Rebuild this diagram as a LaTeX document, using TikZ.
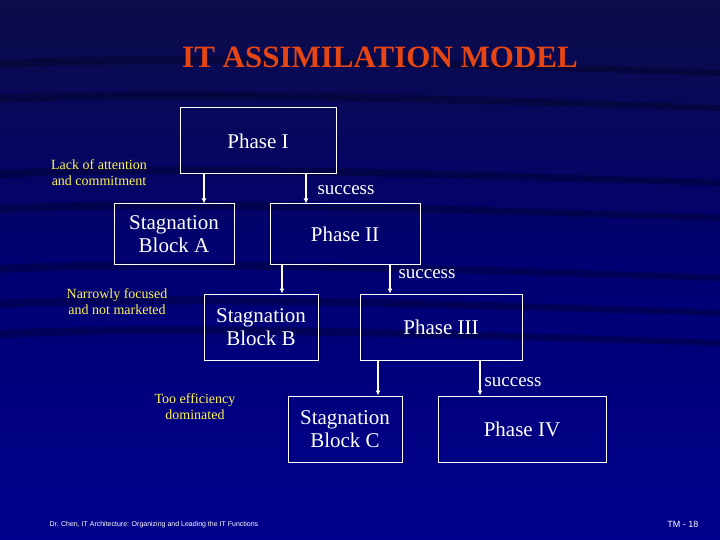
\documentclass[tikz,border=0pt]{standalone}
\usepackage{fontspec}
\setmainfont{Liberation Serif}
\newfontfamily\serf{Liberation Serif}
\newfontfamily\sansf{Liberation Sans}
\usetikzlibrary{arrows.meta}
\begin{document}
\begin{tikzpicture}[x=1pt,y=-1pt,
  box/.style={draw=white,line width=1pt,text=white,align=center,font=\serf\fontsize{21}{23}\selectfont,inner sep=0pt},
  lbl/.style={text=yellow!70!white,align=center,font=\serf\fontsize{14}{16}\selectfont},
  suc/.style={text=white,font=\serf\fontsize{19}{20}\selectfont,anchor=west},
  arr/.style={draw=white,line width=1.5pt,-{Latex[length=5pt,width=5pt]}}]
\useasboundingbox (0,0) rectangle (720,540);
\fill[top color=blue!25!black!95,bottom color=blue!55!black,middle color=blue!45!black] (0,0) rectangle (720,540);
\foreach \y in {60,95,170,205,265,300,330} {\fill[black,opacity=0.25] (0,\y) .. controls (150,\y-8) and (400,\y-2) .. (720,\y+10) -- (720,\y+16) .. controls (400,\y+6) and (150,\y) .. (0,\y+8) -- cycle;}
\node[text={rgb,255:red,230;green,70;blue,20},font=\serf\bfseries\fontsize{31}{32}\selectfont] (title) at (380,57) {IT ASSIMILATION MODEL};
\node[box,minimum width=156,minimum height=66] (p1) at (258,141) {Phase I};
\node[box,minimum width=120,minimum height=60] (sa) at (174,234) {Stagnation\\Block A};
\node[box,minimum width=150,minimum height=60] (p2) at (345,234) {Phase II};
\node[box,minimum width=114,minimum height=66] (sb) at (261,327) {Stagnation\\Block B};
\node[box,minimum width=162,minimum height=66] (p3) at (441,327) {Phase III};
\node[box,minimum width=114,minimum height=66] (sc) at (345,429) {Stagnation\\Block C};
\node[box,minimum width=168,minimum height=66] (p4) at (522,429) {Phase IV};
\draw[arr] (204,174) coordinate (a1) -- (a1 |- sa.north);
\draw[arr] (306,174) coordinate (a2) -- (a2 |- p2.north);
\draw[arr] (282,264) coordinate (a3) -- (a3 |- sb.north);
\draw[arr] (390,264) coordinate (a4) -- (a4 |- p3.north);
\draw[arr] (378,360) coordinate (a5) -- (a5 |- sc.north);
\draw[arr] (480,360) coordinate (a6) -- (a6 |- p4.north);
\node[suc] (s1) at (314,190) {success};
\node[suc] (s2) at (395,274) {success};
\node[suc] (s3) at (481,382) {success};
\node[lbl] (l1) at (99,173) {Lack of attention\\and commitment};
\node[lbl] (l2) at (117,302) {Narrowly focused\\and not marketed};
\node[lbl] (l3) at (195,407) {Too efficiency\\dominated};
\node[text=white,font=\sansf\fontsize{7}{8}\selectfont,anchor=west] (f1) at (46,525) {Dr. Chen, IT Architecture: Organizing and Leading the IT Functions};
\node[text=white,font=\sansf\fontsize{9}{10}\selectfont,anchor=east] (f2) at (702,524) {TM - 18};
\end{tikzpicture}
\end{document}
